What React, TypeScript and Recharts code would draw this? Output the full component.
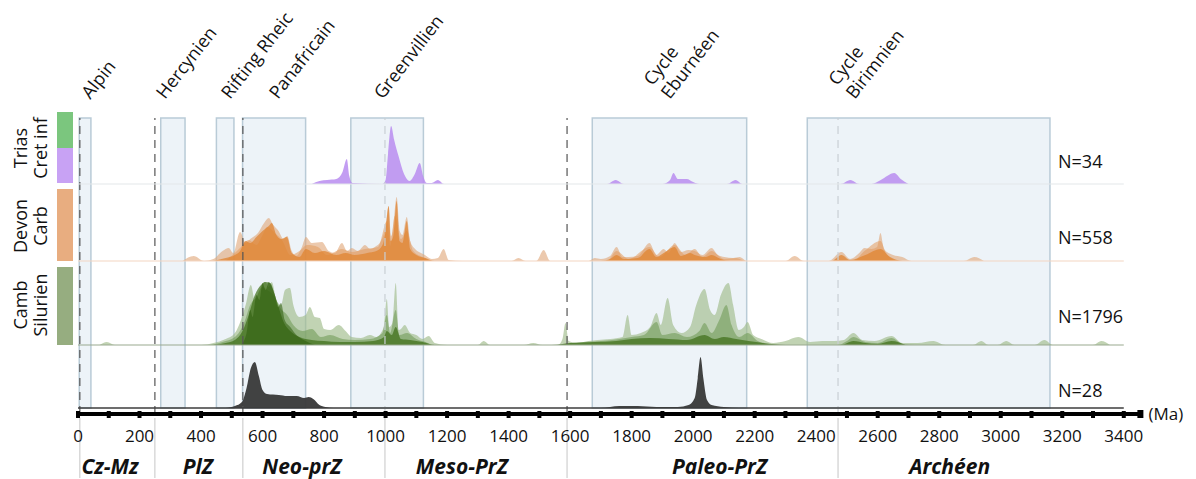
import React from "react";
import {
  Area, ComposedChart, ReferenceArea, ReferenceLine, XAxis, YAxis,
} from "recharts";

const FONT = "'Open Sans', 'DejaVu Sans', sans-serif";
const MA_MAX = 3456;
const Y_MAX = 296;
const PLOT_LEFT = 78;
const PLOT_RIGHT = 1141;

type Pt = [number, number];

// orogenic events (Ma)
const EVENT_LABELS = [["Alpin"], ["Hercynien"], ["Rifting Rheic"], ["Panafricain"], ["Greenvillien"], ["Cycle", "Eburnéen"], ["Cycle", "Birimnien"]];
const EVENT_AT = [40, 283, 494, 650, 991, 1924, 2525];
const BOX_FROM = [4, 269, 450, 535, 887, 1672, 2371];
const BOX_TO = [42, 348, 507, 740, 1123, 2174, 3160];

// era boundaries & names
const DARK_BOUNDS = [6, 250, 536, 1590];
const LIGHT_BOUNDS = [998, 2471];
const ERA_NAMES = ["Cz-Mz", "PlZ", "Neo-prZ", "Meso-PrZ", "Paleo-PrZ", "Archéen"];
const ERA_MID = [104, 390, 728, 1248, 2086, 2834];

const TICK_LABELS = [0, 200, 400, 600, 800, 1000, 1200, 1400, 1600, 1800, 2000, 2200, 2400, 2600, 2800, 3000, 3200, 3400];
const AXIS_END = 3454;

const N_LABELS = ["N=34", "N=558", "N=1796", "N=28"];

// Cret inf / Trias
const PURPLE: Pt[] = [
  [760, 0], [785, 3], [810, 4], [840, 5], [860, 12], [874, 25], [882, 8], [892, 1], [990, 0], [1000, 4],
  [1008, 30], [1018, 58], [1028, 44], [1043, 27], [1060, 10], [1078, 3], [1095, 10], [1111, 21], [1122, 8],
  [1134, 1], [1150, 1], [1170, 4], [1190, 0], [1720, 0], [1748, 4], [1775, 0], [1900, 0], [1925, 4], [1936, 11],
  [1950, 5], [1979, 5], [2000, 2], [2020, 0], [2110, 0], [2138, 4], [2160, 0], [2480, 0], [2511, 4], [2540, 0],
  [2580, 0], [2610, 4], [2654, 11], [2675, 5], [2700, 0],
];

// Devon / Carb
const ORANGE_LIGHT: Pt[] = [
  [340, 0], [376, 5], [410, 0], [440, 2], [470, 10], [490, 13], [505, 8], [527, 29], [545, 18], [560, 22],
  [585, 28], [605, 38], [620, 43], [635, 36], [652, 30], [668, 22], [680, 25], [695, 10], [710, 5], [728, 14],
  [741, 24], [760, 18], [793, 19], [815, 10], [835, 8], [858, 18], [875, 10], [890, 13], [910, 10], [933, 16],
  [950, 12], [965, 14], [985, 20], [1000, 35], [1010, 55], [1018, 25], [1023, 30], [1036, 64], [1046, 30],
  [1055, 26], [1069, 44], [1080, 20], [1096, 12], [1115, 8], [1128, 6], [1150, 2], [1170, 3], [1189, 12],
  [1205, 1], [1250, 0], [1410, 0], [1432, 3], [1455, 0], [1490, 0], [1514, 11], [1535, 0], [1660, 0], [1680, 3],
  [1700, 2], [1730, 5], [1751, 14], [1770, 4], [1790, 4], [1820, 5], [1858, 18], [1880, 6], [1904, 12],
  [1920, 8], [1940, 18], [1960, 9], [1985, 11], [2005, 10], [2030, 6], [2060, 13], [2080, 6], [2102, 4],
  [2130, 3], [2151, 4], [2175, 0], [2300, 0], [2330, 5], [2360, 0], [2440, 0], [2482, 9], [2510, 2], [2540, 8],
  [2557, 13], [2580, 12], [2598, 14], [2609, 28], [2620, 12], [2650, 6], [2680, 4], [2710, 0], [2880, 0],
  [2914, 4], [2945, 0],
];
const ORANGE_MID: Pt[] = [
  [480, 0], [510, 8], [530, 14], [555, 21], [580, 16], [600, 26], [615, 34], [640, 28], [665, 20], [690, 6],
  [720, 10], [745, 16], [780, 14], [810, 6], [858, 12], [890, 9], [933, 12], [975, 14], [1005, 40], [1015, 15],
  [1030, 45], [1050, 22], [1069, 30], [1090, 10], [1120, 4], [1150, 0], [1720, 0], [1751, 10], [1790, 2],
  [1858, 14], [1890, 4], [1940, 16], [1975, 6], [2005, 12], [2030, 4], [2060, 10], [2100, 2], [2140, 3],
  [2170, 0], [2520, 0], [2557, 10], [2609, 20], [2630, 6], [2670, 0],
];
const ORANGE_DARK: Pt[] = [
  [440, 0], [480, 3], [510, 6], [527, 10], [545, 20], [560, 18], [580, 24], [600, 30], [620, 35], [630, 38],
  [645, 26], [660, 22], [679, 24], [695, 8], [720, 4], [741, 12], [770, 8], [800, 10], [840, 6], [870, 8],
  [900, 6], [940, 8], [970, 10], [990, 16], [1000, 30], [1010, 55], [1017, 20], [1025, 25], [1036, 60],
  [1045, 20], [1055, 18], [1069, 40], [1080, 12], [1100, 6], [1130, 3], [1160, 0], [1700, 0], [1730, 2],
  [1751, 6], [1775, 2], [1820, 3], [1858, 12], [1880, 4], [1904, 8], [1940, 14], [1960, 5], [1990, 8],
  [2005, 6], [2040, 4], [2060, 6], [2090, 2], [2120, 0], [2450, 0], [2482, 6], [2510, 1], [2560, 6],
  [2609, 12], [2640, 4], [2680, 0],
];

// Camb / Silurien
const GREEN_LIGHT: Pt[] = [
  [70, 0], [94, 3], [120, 0], [400, 0], [440, 2], [480, 6], [510, 12], [530, 25], [545, 40], [562, 60],
  [575, 45], [590, 55], [608, 63], [620, 58], [630, 63], [645, 45], [660, 40], [673, 55], [689, 57], [700, 40],
  [720, 28], [740, 30], [754, 38], [770, 28], [786, 27], [800, 16], [820, 15], [848, 20], [870, 14], [890, 8],
  [920, 7], [949, 10], [970, 8], [985, 12], [995, 20], [1004, 46], [1012, 18], [1022, 22], [1033, 62],
  [1042, 15], [1050, 16], [1062, 20], [1080, 12], [1100, 10], [1120, 6], [1140, 9], [1160, 2], [1200, 0],
  [1300, 0], [1319, 4], [1340, 0], [1450, 0], [1480, 2], [1510, 0], [1560, 0], [1575, 6], [1585, 22],
  [1595, 4], [1620, 2], [1660, 4], [1690, 5], [1730, 6], [1770, 8], [1787, 30], [1800, 10], [1830, 12],
  [1860, 18], [1881, 32], [1895, 20], [1917, 47], [1935, 20], [1962, 12], [1990, 18], [2010, 40], [2037, 56],
  [2055, 35], [2070, 30], [2090, 50], [2115, 62], [2130, 40], [2148, 15], [2165, 18], [2177, 23], [2195, 10],
  [2222, 6], [2260, 2], [2300, 4], [2342, 8], [2380, 3], [2420, 4], [2459, 4], [2490, 5], [2521, 12],
  [2550, 5], [2590, 4], [2645, 9], [2680, 2], [2730, 2], [2781, 4], [2820, 0], [2910, 0], [2937, 4], [2960, 0],
  [2990, 0], [3018, 4], [3045, 0], [3110, 0], [3142, 5], [3170, 0], [3300, 0], [3327, 4], [3355, 0],
];
const GREEN_MID: Pt[] = [
  [430, 0], [470, 3], [510, 8], [540, 22], [560, 40], [580, 48], [600, 58], [615, 55], [635, 50], [660, 36],
  [680, 30], [700, 20], [730, 14], [760, 16], [790, 8], [820, 10], [860, 6], [900, 5], [950, 6], [990, 12],
  [1004, 30], [1015, 12], [1033, 35], [1045, 10], [1070, 12], [1100, 6], [1130, 3], [1160, 0], [1560, 0],
  [1600, 2], [1650, 3], [1700, 4], [1760, 6], [1800, 8], [1840, 10], [1881, 23], [1900, 10], [1940, 12],
  [1980, 8], [2020, 14], [2037, 22], [2060, 12], [2085, 25], [2108, 40], [2125, 20], [2150, 8], [2177, 12],
  [2210, 4], [2260, 0], [2470, 0], [2500, 4], [2521, 8], [2560, 3], [2600, 2], [2645, 7], [2680, 1], [2720, 0],
];
const GREEN_DARK: Pt[] = [
  [440, 0], [480, 2], [510, 5], [535, 14], [555, 30], [575, 50], [595, 60], [608, 63], [625, 62], [640, 50],
  [655, 35], [670, 22], [690, 14], [720, 8], [760, 5], [800, 4], [850, 3], [900, 3], [960, 4], [995, 8],
  [1004, 14], [1020, 10], [1033, 18], [1050, 6], [1080, 5], [1120, 3], [1160, 0], [1540, 0], [1600, 2],
  [1680, 3], [1750, 4], [1800, 6], [1860, 7], [1920, 6], [1980, 5], [2037, 10], [2070, 6], [2100, 8],
  [2140, 6], [2180, 4], [2230, 2], [2300, 0], [2480, 0], [2521, 4], [2560, 2], [2600, 1], [2645, 4], [2690, 0],
];
const GREEN_CORE: Pt[] = [
  [530, 0], [548, 12], [560, 35], [568, 28], [580, 50], [590, 45], [600, 62], [610, 55], [620, 63], [630, 58],
  [640, 50], [650, 38], [660, 42], [672, 25], [690, 18], [710, 10], [740, 4], [770, 0],
];

// detrital zircons, bottom row
const BLACK: Pt[] = [
  [480, 0], [510, 2], [533, 6], [548, 20], [562, 40], [575, 46], [588, 32], [600, 18], [615, 14], [653, 13],
  [680, 12], [711, 12], [735, 10], [750, 11], [765, 9], [785, 3], [805, 1], [830, 0], [1700, 0], [1760, 2],
  [1820, 2], [1880, 1], [1950, 1], [1985, 3], [2005, 10], [2015, 30], [2024, 51], [2033, 30], [2045, 8],
  [2060, 3], [2100, 1], [2150, 0],
];

// layout: baseline of each row in y units (px above the axis)
const ROW_BASE = [230, 153, 69, 6];
const ROW_LINE = ["#e3e7ea", "#f3d6c2", "#9aaa8f", "#3d3d3d"];

const SERIES = [
  { pts: PURPLE, row: 0, fill: "#b98cf0", op: 0.85 },
  { pts: ORANGE_LIGHT, row: 1, fill: "#dfa576", op: 0.6 },
  { pts: ORANGE_MID, row: 1, fill: "#e39a5c", op: 0.55 },
  { pts: ORANGE_DARK, row: 1, fill: "#e0822c", op: 0.7 },
  { pts: GREEN_LIGHT, row: 2, fill: "#9fbb8b", op: 0.65 },
  { pts: GREEN_MID, row: 2, fill: "#6c9850", op: 0.55 },
  { pts: GREEN_DARK, row: 2, fill: "#3d6e17", op: 0.7 },
  { pts: GREEN_CORE, row: 2, fill: "#2e5c0b", op: 0.55 },
  { pts: BLACK, row: 3, fill: "#383838", op: 0.95 },
];

const toRows = (pts: Pt[]) => pts.map(([ma, v]) => ({ ma, v }));
// same linear map as the chart's x axis, for the annotations outside the plot
const xOf = (ma: number) => PLOT_LEFT + (ma * (PLOT_RIGHT - PLOT_LEFT)) / MA_MAX;

function MaTick(props: any) {
  const { x, y, payload } = props;
  const v = payload.value;
  if (v === AXIS_END) {
    return (
      <g>
        <rect x={x - 3} y={y - 4} width={6} height={8} fill="#000" />
        <text x={x + 8} y={y + 6} fontSize={17} fontFamily={FONT} fill="#111">(Ma)</text>
      </g>
    );
  }
  const major = v % 100 === 0;
  return (
    <g>
      <rect x={x - (major ? 2 : 1)} y={y - (major ? 3 : 2)} width={major ? 4 : 2} height={major ? 7 : 4} fill="#000" />
      {TICK_LABELS.includes(v) && (
        <text x={x} y={y + 28} textAnchor="middle" fontSize={17} fontFamily={FONT} fill="#111">{v}</text>
      )}
    </g>
  );
}

const minorTicks = Array.from({ length: 70 }, (_, i) => i * 50);

function RowLabel({ lines, cy }: { lines: string[]; cy: number }) {
  return (
    <div style={{
      position: "absolute", left: 30, top: cy, transform: "translate(-50%,-50%) rotate(-90deg)",
      fontFamily: FONT, fontSize: 18, lineHeight: "20px", textAlign: "center", whiteSpace: "nowrap", color: "#111",
    }}>
      {lines.map((l) => <div key={l}>{l}</div>)}
    </div>
  );
}

const bar = (top: number, height: number, color: string) => (
  <div style={{ position: "absolute", left: 57, top, width: 16, height, background: color }} />
);

function Annotations() {
  return (
    <svg width={1196} height={479} style={{ position: "absolute", left: 0, top: 0, pointerEvents: "none" }}>
      {EVENT_AT.map((ma, i) => {
        const lines = EVENT_LABELS[i];
        return (
          <g key={ma} transform={`translate(${xOf(ma)},100) rotate(-52)`}>
            <text fontSize={18} fontFamily={FONT} fill="#111">
              {lines.map((l, k) => (
                <tspan key={k} x={0} y={(k - lines.length + 1) * 22}>{l}</tspan>
              ))}
            </text>
          </g>
        );
      })}
      {[...DARK_BOUNDS, ...LIGHT_BOUNDS].map((b) => (
        <line key={b} x1={xOf(b)} x2={xOf(b)} y1={418} y2={478} stroke="#c6c6c6" strokeWidth={1} />
      ))}
      {ERA_MID.map((ma, i) => (
        <text key={ma} x={xOf(ma)} y={474} textAnchor="middle" fontSize={21} fontWeight={700}
          fontStyle="italic" fontFamily={FONT} fill="#111">{ERA_NAMES[i]}</text>
      ))}
    </svg>
  );
}

export default function App() {
  return (
    <div style={{ position: "absolute", left: 0, top: 0, width: 1196, height: 479, background: "#fff", fontFamily: FONT }}>
      <Annotations />
      <ComposedChart width={1196} height={479} margin={{ top: 118, right: 1196 - PLOT_RIGHT, bottom: 0, left: PLOT_LEFT }}
        style={{ position: "absolute", left: 0, top: 0 }}>
        <XAxis type="number" dataKey="ma" domain={[0, MA_MAX]} height={65}
          ticks={[...minorTicks, AXIS_END]} tick={MaTick} interval={0}
          axisLine={{ stroke: "#000", strokeWidth: 4 }} tickLine={false} tickSize={0} tickMargin={0} />
        <YAxis type="number" domain={[0, Y_MAX]} hide />

        {BOX_FROM.map((f, i) => (
          <ReferenceArea key={`box${i}`} x1={f} x2={BOX_TO[i]} y1={6} y2={Y_MAX}
            fill="#dce8f1" fillOpacity={0.5} stroke="#b9cbd7" strokeWidth={1.5} />
        ))}
        {DARK_BOUNDS.map((b) => (
          <ReferenceLine key={`d${b}`} x={b} stroke="#555" strokeWidth={1.2} strokeDasharray="8 6" />
        ))}
        {LIGHT_BOUNDS.map((b) => (
          <ReferenceLine key={`l${b}`} x={b} stroke="#c9cfd4" strokeWidth={1.2} strokeDasharray="8 6" />
        ))}
        {ROW_BASE.map((b, i) => (
          <ReferenceLine key={`r${i}`} segment={[{ x: 0, y: b }, { x: 3400, y: b }]}
            stroke={ROW_LINE[i]} strokeWidth={i === 3 ? 1.5 : 1.2} />
        ))}

        {SERIES.map((s, i) => (
          <Area key={i} data={toRows(s.pts)} type="monotone"
            dataKey={(d: any) => [ROW_BASE[s.row], ROW_BASE[s.row] + d.v]}
            fill={s.fill} fillOpacity={s.op} stroke="none" dot={false} activeDot={false}
            isAnimationActive={false} />
        ))}
      </ComposedChart>

      {bar(112, 36, "#7bc67e")}
      {bar(148, 35, "#c8a2f4")}
      {bar(189, 72, "#e8ad80")}
      {bar(267, 78, "#96ad80")}
      <RowLabel lines={["Trias", "Cret inf"]} cy={148} />
      <RowLabel lines={["Devon", "Carb"]} cy={226} />
      <RowLabel lines={["Camb", "Silurien"]} cy={305} />

      {N_LABELS.map((n, i) => (
        <div key={n} style={{
          position: "absolute", left: 1058, top: [152, 228, 307, 381][i],
          fontFamily: FONT, fontSize: 18, lineHeight: "18px", color: "#111",
        }}>{n}</div>
      ))}
    </div>
  );
}
